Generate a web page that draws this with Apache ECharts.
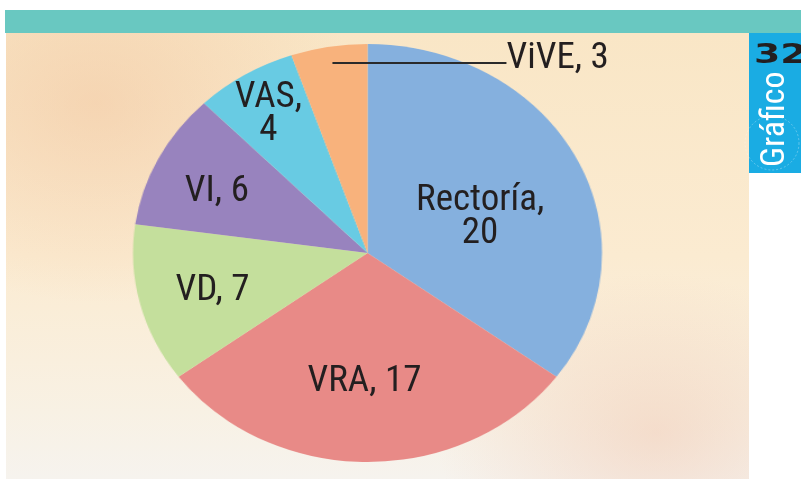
<!DOCTYPE html>
<html>
<head>
<meta charset="utf-8">
<script src="https://cdn.jsdelivr.net/npm/echarts@6/dist/echarts.min.js"></script>
<style>
  html, body { margin: 0; padding: 0; background: #fff; }
  .page { position: relative; width: 801px; height: 479px; overflow: hidden; }
  .topbar { position: absolute; left: 5px; top: 10px; width: 796px; height: 23px; background: #69c8c1; }
  .panel {
    position: absolute; left: 6px; top: 33px; width: 743px; height: 446px;
    background:
      radial-gradient(ellipse 260px 200px at 90px 70px, rgba(240, 190, 150, 0.45), rgba(240, 190, 150, 0) 100%),
      radial-gradient(ellipse 220px 160px at 650px 400px, rgba(240, 195, 170, 0.45), rgba(240, 195, 170, 0) 100%),
      linear-gradient(180deg, #f9e6c6 0%, #fbebd1 50%, #f8f1e4 85%, #f6f3ee 100%);
  }
  .chart { position: absolute; left: 0; top: 0; width: 801px; height: 479px; }
  #pie { transform-origin: 367.5px 253px; transform: scaleX(1.122); }
</style>
</head>
<body>
<div class="page">
  <div class="topbar"></div>
  <div class="panel"></div>
  <div id="pie" class="chart"></div>
  <div id="labels" class="chart"></div>
</div>
<script>
// Distribución por dependencia
const categories = ['Rectoría', 'VRA', 'VD', 'VI', 'VAS', 'ViVE']
const values = [20, 17, 7, 6, 4, 3]
const colors = ['#85b0de', '#e88a87', '#c4df9c', '#9883be', '#68cbe3', '#f8b27c']

// the original pie is an ellipse: the circle is stretched horizontally
const CX = 367.5
const CY = 253
const R = 209
const STRETCH = 1.122

// hand placement of the labels, offset from the default inside spot
const labelNudge = [
  [5, 13], [-3, 21], [-38, 11], [-43, -13], [-36, -47], [123, -84]
]

// condensed face of Roboto (goes in the font shorthand through fontWeight)
const FONT = 'Roboto, sans-serif'
const STRETCH_KW = 'condensed'

const pieChart = echarts.init(document.getElementById('pie'), null, { renderer: 'canvas' })
pieChart.setOption({
  animation: false,
  series: [{
    type: 'pie',
    center: [CX, CY],
    radius: R,
    startAngle: 90,
    clockwise: true,
    itemStyle: { borderWidth: 0 },
    label: { show: false },
    labelLine: { show: false },
    emphasis: { disabled: true },
    data: categories.map((name, i) => ({
      name,
      value: values[i],
      itemStyle: { color: colors[i] }
    }))
  }]
})

// second, unstretched copy of the pie: invisible sectors, carries the labels
const labelChart = echarts.init(document.getElementById('labels'), null, { renderer: 'canvas' })
labelChart.setOption({
  animation: false,
  graphic: [
    { type: 'rect', shape: { x: 749, y: 33, width: 52, height: 140 }, style: { fill: '#1aace3' } },
    {
      type: 'circle', shape: { cx: 772, cy: 143, r: 27 },
      style: { fill: 'none', stroke: 'rgba(255,255,255,0.3)', lineWidth: 1, lineDash: [2, 2] }
    },
    {
      type: 'text', x: 754, y: 42, scaleX: 1.4,
      style: { text: '32', fill: '#231f20', font: "bold 27px 'DejaVu Sans', sans-serif" }
    },
    {
      type: 'text', x: 775, y: 167, rotation: Math.PI / 2,
      style: { text: 'Gráfico', fill: '#ffffff', font: "condensed 34px Roboto, sans-serif", align: 'left', verticalAlign: 'middle' }
    }
  ],
  series: [{
    type: 'pie',
    center: [CX, CY],
    radius: R,
    startAngle: 90,
    clockwise: true,
    silent: true,
    itemStyle: { color: 'rgba(0,0,0,0)', borderWidth: 0 },
    emphasis: { disabled: true },
    label: {
      show: true,
      position: 'inside',
      color: '#231f20',
      fontFamily: FONT,
      fontWeight: STRETCH_KW,
      fontSize: 37,
      lineHeight: 33,
      formatter: p => {
        if (p.dataIndex === 0 || p.dataIndex === 4) return p.name + ',\n' + p.value
        if (p.dataIndex === 5) return '{ln| }{t|' + p.name + ', ' + p.value + '}'
        return p.name + ', ' + p.value
      },
      rich: {
        ln: { width: 174, height: 2, backgroundColor: '#2a2a2a', verticalAlign: 'middle' },
        t: {
          color: '#231f20', fontFamily: FONT, fontWeight: STRETCH_KW, fontSize: 37, lineHeight: 33,
          padding: [0, 0, 8, 0], verticalAlign: 'middle'
        }
      }
    },
    labelLine: { show: false },
    labelLayout: p => {
      const r = p.labelRect
      const x0 = r.x + r.width / 2
      const n = labelNudge[p.dataIndex]
      return { dx: (x0 - CX) * (STRETCH - 1) + n[0], dy: n[1] }
    },
    data: categories.map((name, i) => ({ name, value: values[i] }))
  }]
})
</script>
</body>
</html>
